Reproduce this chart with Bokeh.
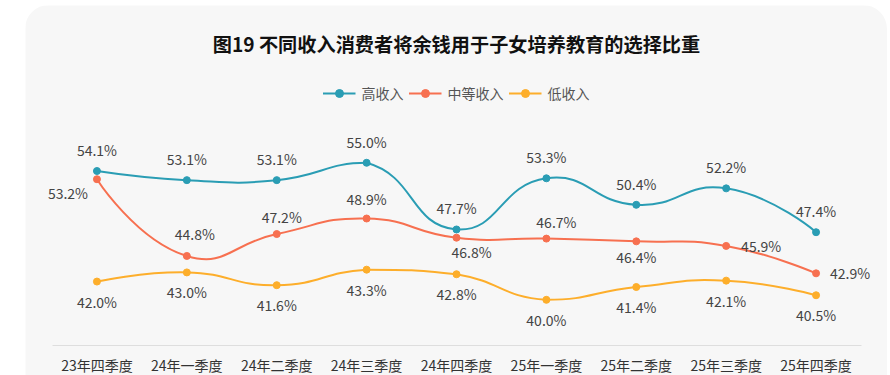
import math
from bokeh.plotting import figure
from bokeh.models import FactorRange, Range1d, Legend, LegendItem, Label, Spacer
from bokeh.layouts import row, column
from bokeh.embed import file_html
from bokeh.resources import INLINE
from bokeh.core.properties import value

# ---------------- data ----------------
categories = ["23年四季度", "24年一季度", "24年二季度", "24年三季度", "24年四季度",
              "25年一季度", "25年二季度", "25年三季度", "25年四季度"]
high_income = [54.1, 53.1, 53.1, 55.0, 47.7, 53.3, 50.4, 52.2, 47.4]
middle_income = [53.2, 44.8, 47.2, 48.9, 46.8, 46.7, 46.4, 45.9, 42.9]
low_income = [42.0, 43.0, 41.6, 43.3, 42.8, 40.0, 41.4, 42.1, 40.5]
series_names = ["高收入", "中等收入", "低收入"]
title_text = "图19 不同收入消费者将余钱用于子女培养教育的选择比重"

# ---------------- style / layout ----------------
FONT = "Noto Sans CJK SC"
COLORS = ["#2a9db4", "#f77050", "#fdae2b"]
PANEL = "#f7f7f7"

LEFT_GAP, TOP_GAP = 25, 5
W, H = 862, 370          # figure size (page x 25..887, y 5..375)
CAT_W = 809              # pixel width covered by the categories
AXIS_FROM_TOP = 340      # pixel position of the x axis line from figure top
TITLE_FROM_TOP = 38
LEGEND_TOP = 78
Y0 = 35.0                # value at the axis line
PXU = 9.136              # pixels per percentage point
XU = CAT_W / len(categories)
Y_LO = Y0 - (H - AXIS_FROM_TOP) / PXU
Y_HI = Y0 + AXIS_FROM_TOP / PXU

# label offsets (pixels) per series / point
label_dx = [
    [0] * 9,
    [-29, 8, 5, 0, 15, 10, 0, 35, 34],
    [0] * 9,
]
label_dy = [
    [-21] * 9,
    [14, -22, -17, -20, 14, -17, 16, 0, 0],
    [20] * 9,
]


def smooth_segments(vals, smooth=0.5):
    """ECharts-like smoothed bezier segments, computed in pixel space."""
    pts = [((i + 0.5) * XU, (v - Y0) * PXU) for i, v in enumerate(vals)]
    xs = [q[0] for q in pts]
    ys = [q[1] for q in pts]
    mn = (min(xs), min(ys))
    mx = (max(xs), max(ys))

    def clamp(c):
        return (min(max(c[0], mn[0]), mx[0]), min(max(c[1], mn[1]), mx[1]))

    segs = []
    cp0 = pts[0]
    for i in range(1, len(pts)):
        p = pts[i]
        prev = pts[i - 1]
        if i == len(pts) - 1:
            cp1 = p
            ratio = 0.5
            v = (0.0, 0.0)
        else:
            nxt = pts[i + 1]
            v = (nxt[0] - prev[0], nxt[1] - prev[1])
            lp = math.hypot(p[0] - prev[0], p[1] - prev[1])
            ln = math.hypot(nxt[0] - p[0], nxt[1] - p[1])
            ratio = ln / (ln + lp)
            cp1 = (p[0] - smooth * (1 - ratio) * v[0], p[1] - smooth * (1 - ratio) * v[1])
        segs.append((prev, clamp(cp0), clamp(cp1), p))
        cp0 = (p[0] + smooth * ratio * v[0], p[1] + smooth * ratio * v[1])

    def d(q):
        return (q[0] / XU, q[1] / PXU + Y0)

    out = {k: [] for k in ["x0", "y0", "cx0", "cy0", "cx1", "cy1", "x1", "y1"]}
    for a, b, c, e in segs:
        a, b, c, e = d(a), d(b), d(c), d(e)
        out["x0"].append(a[0]); out["y0"].append(a[1])
        out["cx0"].append(b[0]); out["cy0"].append(b[1])
        out["cx1"].append(c[0]); out["cy1"].append(c[1])
        out["x1"].append(e[0]); out["y1"].append(e[1])
    return out


x_range = FactorRange(factors=categories, range_padding=W / CAT_W - 1,
                      range_padding_units="percent")
p = figure(width=W, height=H, x_range=x_range, y_range=Range1d(Y_LO, Y_HI),
           output_backend="svg", toolbar_location=None,
           min_border_left=0, min_border_right=0, min_border_top=0, min_border_bottom=0,
           background_fill_color=PANEL, border_fill_color=PANEL, outline_line_color=None)

p.styles = {"border-top-left-radius": "24px", "border-top-right-radius": "24px",
            "overflow": "hidden"}

p.xgrid.grid_line_color = None
p.ygrid.grid_line_color = None
p.yaxis.visible = False
xa = p.xaxis[0]
xa.fixed_location = Y0
xa.bounds = (0, len(categories))
xa.axis_line_color = "#dedede"
xa.axis_line_width = 1
xa.major_tick_line_color = None
xa.minor_tick_line_color = None
xa.major_tick_out = 0
xa.major_tick_in = 0
xa.major_label_standoff = 9
xa.major_label_text_font = FONT
xa.major_label_text_font_size = "14px"
xa.major_label_text_color = "#333333"

items = []
for k, vals in enumerate([high_income, middle_income, low_income]):
    seg = smooth_segments(vals)
    br = p.bezier(line_color=COLORS[k], line_width=2, **seg)
    sr = p.scatter(x=categories, y=vals, size=7, fill_color=COLORS[k], line_color=COLORS[k])
    p.text(x=categories, y=vals, text=[f"{v:.1f}%" for v in vals],
           x_offset=label_dx[k], y_offset=label_dy[k],
           text_align="center", text_baseline="middle",
           text_font=value(FONT), text_font_size="14px", text_color="#444444")
    items.append(LegendItem(label=series_names[k], renderers=[br, sr]))

legend = Legend(items=items, orientation="horizontal", location="top_center",
                margin=LEGEND_TOP, padding=0, spacing=5, glyph_width=33, glyph_height=20,
                label_height=20, label_standoff=6, label_text_font=FONT,
                label_text_font_size="14px", label_text_color="#555555",
                background_fill_alpha=0, border_line_alpha=0)
p.add_layout(legend)

title = Label(x=len(categories) / 2, y=Y0 + (AXIS_FROM_TOP - TITLE_FROM_TOP) / PXU,
              text=title_text, text_align="center", text_baseline="middle", text_font=FONT,
              text_font_size="19.2px", text_font_style="bold", text_color="#111111")
p.add_layout(title)

layout = column(Spacer(width=W + LEFT_GAP, height=TOP_GAP),
                row(Spacer(width=LEFT_GAP, height=H), p))

open("out.html", "w").write(file_html(layout, INLINE))
